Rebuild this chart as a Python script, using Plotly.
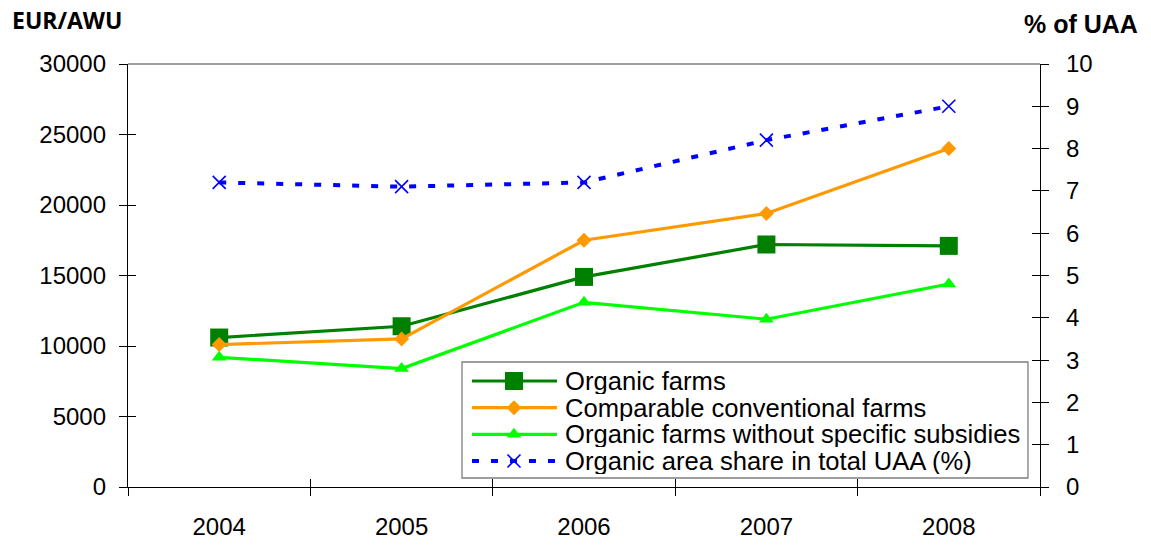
import plotly.graph_objects as go

# Data
years = ["2004", "2005", "2006", "2007", "2008"]
organic_farms = [10600, 11400, 14900, 17200, 17100]
conventional_farms = [10100, 10500, 17500, 19400, 24000]
organic_no_subsidies = [9200, 8400, 13100, 11900, 14400]
organic_area_share = [7.2, 7.1, 7.2, 8.2, 9.0]

series_names = [
    "Organic farms",
    "Comparable conventional farms",
    "Organic farms without specific subsidies",
    "Organic area share in total UAA (%)",
]
left_ticks = [0, 5000, 10000, 15000, 20000, 25000, 30000]
left_tick_text = ["0", "5000", "10000", "15000", "20000", "25000", "30000"]
right_ticks = list(range(0, 11))

FONT = "Liberation Sans, Arial, sans-serif"

DARK_GREEN = "#008000"
ORANGE = "#FF9900"
LIGHT_GREEN = "#00FF00"
BLUE = "#0000FF"

styles = [
    dict(line=dict(color=DARK_GREEN, width=3.2),
         marker=dict(symbol="square", size=18, color=DARK_GREEN)),
    dict(line=dict(color=ORANGE, width=3.2),
         marker=dict(symbol="diamond", size=11.5, color=ORANGE)),
    dict(line=dict(color=LIGHT_GREEN, width=3.2),
         marker=dict(symbol="triangle-up", size=13, color=LIGHT_GREEN)),
    dict(line=dict(color=BLUE, width=4, dash="7px,12px"),
         marker=dict(symbol="x-thin-open", size=13, color=BLUE,
                     line=dict(color=BLUE, width=1.6))),
]

fig = go.Figure()

left_series = [organic_farms, conventional_farms, organic_no_subsidies]
for name, vals, st in zip(series_names[:3], left_series, styles[:3]):
    fig.add_trace(go.Scatter(x=years, y=vals, name=name, mode="lines+markers",
                             line=st["line"], marker=st["marker"],
                             xaxis="x", yaxis="y", showlegend=False,
                             hoverinfo="skip"))

fig.add_trace(go.Scatter(x=years, y=organic_area_share, name=series_names[3],
                         mode="lines+markers", line=styles[3]["line"],
                         marker=styles[3]["marker"], xaxis="x", yaxis="y2",
                         showlegend=False, hoverinfo="skip"))

# Empty carriers for the inward half of the crossing tick marks
blank = [None] * len(years)
fig.add_trace(go.Scatter(x=years, y=blank, xaxis="x2", yaxis="y",
                         showlegend=False, hoverinfo="skip"))
fig.add_trace(go.Scatter(x=years, y=blank, xaxis="x", yaxis="y3",
                         showlegend=False, hoverinfo="skip"))
fig.add_trace(go.Scatter(x=years, y=blank, xaxis="x", yaxis="y4",
                         showlegend=False, hoverinfo="skip"))

# Legend keys, drawn in a small auxiliary subplot
key_x = [10, 95]
key_mid = 52
row_y = [19, 45.7, 72.3, 99]
for name, st, ry in zip(series_names, styles, row_y):
    fig.add_trace(go.Scatter(x=key_x, y=[ry, ry], mode="lines",
                             line=st["line"], xaxis="x5", yaxis="y5",
                             showlegend=False, hoverinfo="skip"))
    fig.add_trace(go.Scatter(x=[key_mid], y=[ry], mode="markers",
                             marker=st["marker"], xaxis="x5", yaxis="y5",
                             showlegend=False, hoverinfo="skip"))
    fig.add_annotation(x=101, y=ry, xref="x5", yref="y5", text=name,
                       showarrow=False, xanchor="left", yanchor="middle",
                       height=26,
                       font=dict(family=FONT, size=25.6, color="black"))

tick_common = dict(ticklen=8, tickwidth=1.3, tickcolor="black",
                   automargin=False)

fig.update_layout(
    width=1151, height=545,
    margin=dict(l=128, r=111, t=64, b=58),
    paper_bgcolor="white",
    plot_bgcolor="rgba(0,0,0,0)",
    font=dict(family=FONT, size=24, color="black"),
    showlegend=False,
    xaxis=dict(type="category", categoryorder="array", categoryarray=years,
               range=[-0.5, 4.5], tickson="boundaries", ticks="outside",
               showline=True, linecolor="black", linewidth=1.3,
               showgrid=False, zeroline=False, ticklabelstandoff=18,
               tickfont=dict(family=FONT, size=24), **tick_common),
    xaxis2=dict(type="category", categoryorder="array", categoryarray=years,
                overlaying="x", anchor="y", side="bottom",
                range=[-0.5, 4.5], tickson="boundaries", ticks="inside",
                showticklabels=False, showline=False, showgrid=False,
                zeroline=False, **tick_common),
    yaxis=dict(range=[0, 30000], tickmode="array", tickvals=left_ticks,
               ticktext=left_tick_text,
               ticks="outside", showline=True, linecolor="black",
               linewidth=1.3, showgrid=False, zeroline=False,
               ticklabelstandoff=8,
               tickfont=dict(family=FONT, size=24), **tick_common),
    yaxis2=dict(range=[0, 10], tickmode="array", tickvals=right_ticks,
                overlaying="y", side="right", anchor="x", ticks="outside",
                showline=True, linecolor="black", linewidth=1.3,
                showgrid=False, zeroline=False, ticklabelstandoff=12,
                tickfont=dict(family=FONT, size=24), **tick_common),
    yaxis3=dict(range=[0, 30000], tickmode="array", tickvals=left_ticks,
                overlaying="y", side="left", anchor="x", ticks="inside",
                showticklabels=False, showline=False, showgrid=False,
                zeroline=False, **tick_common),
    yaxis4=dict(range=[0, 10], tickmode="array", tickvals=right_ticks,
                overlaying="y", side="right", anchor="x", ticks="inside",
                showticklabels=False, showline=False, showgrid=False,
                zeroline=False, **tick_common),
    xaxis5=dict(domain=[0.3662, 0.9868], range=[0, 566], anchor="y5",
                visible=False, fixedrange=True, automargin=False),
    yaxis5=dict(domain=[0.0213, 0.2955], range=[116, 0], anchor="x5",
                visible=False, fixedrange=True, automargin=False),
)

# Plot area top edge and legend frame
fig.add_shape(type="line", xref="paper", yref="paper", x0=0, x1=1, y0=1, y1=1,
              line=dict(color="#7f7f7f", width=1.3), layer="below")
fig.add_shape(type="rect", xref="paper", yref="paper",
              x0=0.3662, x1=0.9868, y0=0.0213, y1=0.2955,
              line=dict(color="#7f7f7f", width=1.3), fillcolor="white",
              layer="below")

# Axis titles
fig.add_annotation(text="<b>EUR/AWU</b>", xref="paper", yref="paper",
                   x=-0.1294, y=1.104, xanchor="left", yanchor="middle",
                   showarrow=False,
                   font=dict(family="Open Sans, sans-serif", size=23,
                             color="black"))
fig.add_annotation(text="<b>% of UAA</b>", xref="paper", yref="paper",
                   x=1.1096, y=1.0946, xanchor="right", yanchor="middle",
                   showarrow=False,
                   font=dict(family=FONT, size=25, color="black"))

fig.write_html("out.html")
